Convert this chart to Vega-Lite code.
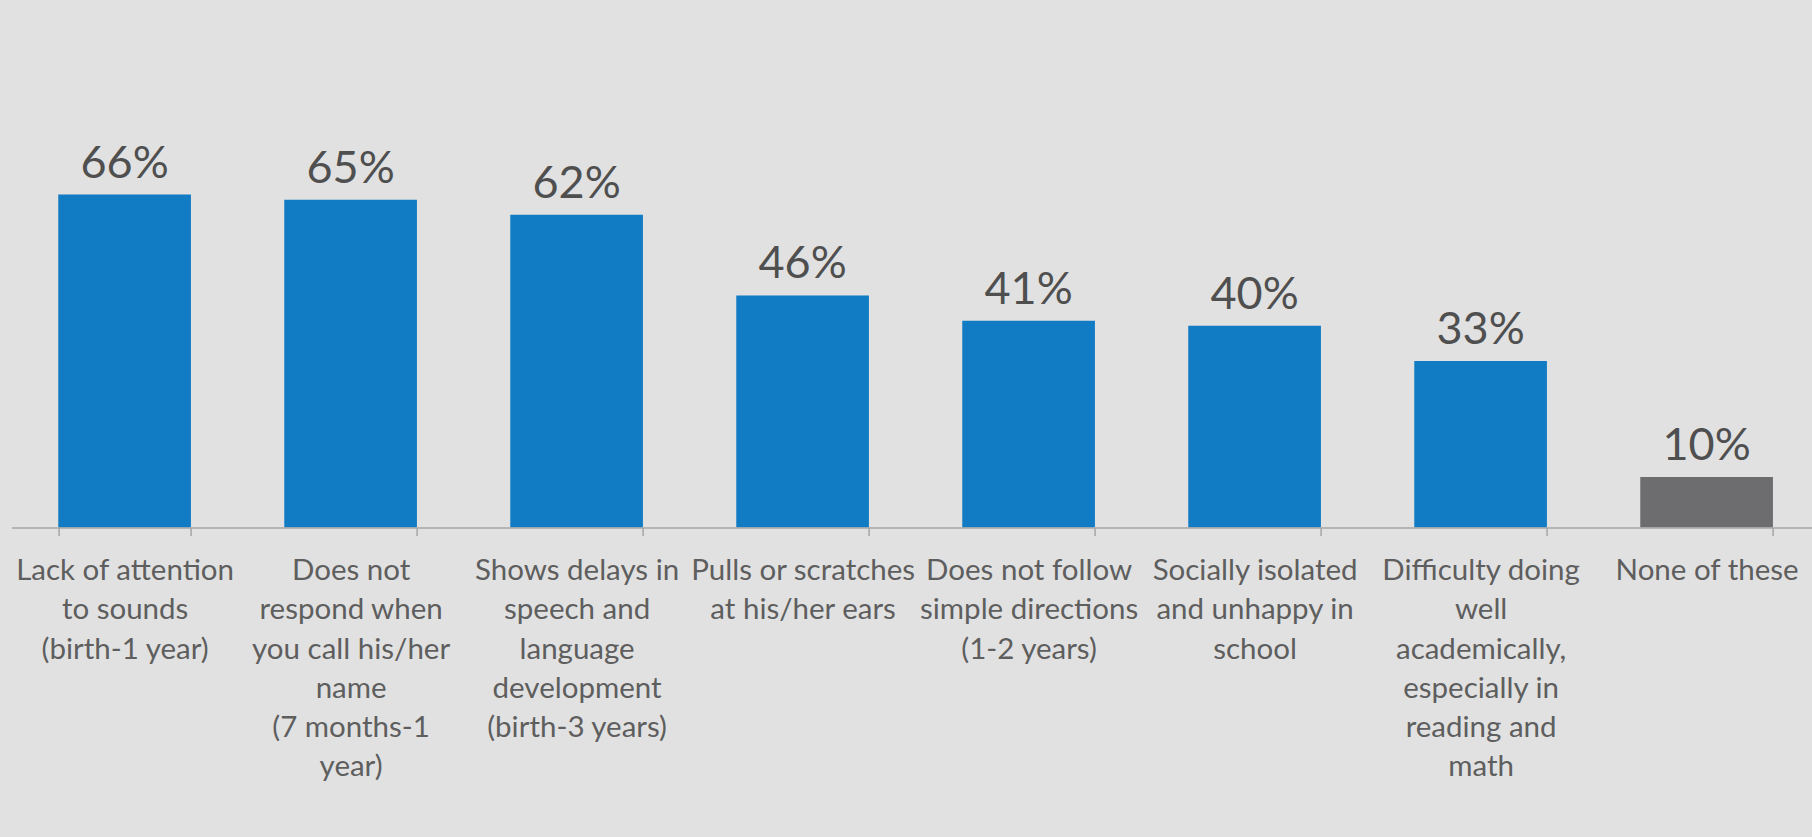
{
  "$schema": "https://vega.github.io/schema/vega-lite/v6.json",
  "autosize": {"type": "none"},
  "width": 1808,
  "height": 519.5,
  "padding": {"top": 8, "left": 11.6, "right": 0, "bottom": 309.5},
  "background": "#e1e1e1",
  "config": {"view": {"stroke": null}},
  "data": {
    "values": [
      {"symptom": "Lack of attention\nto sounds\n(birth-1 year)", "pct": 0.66},
      {"symptom": "Does not\nrespond when\nyou call his/her\nname\n(7 months-1\nyear)", "pct": 0.65},
      {"symptom": "Shows delays in\nspeech and\nlanguage\ndevelopment\n(birth-3 years)", "pct": 0.62},
      {"symptom": "Pulls or scratches\nat his/her ears", "pct": 0.46},
      {"symptom": "Does not follow\nsimple directions\n(1-2 years)", "pct": 0.41},
      {"symptom": "Socially isolated\nand unhappy in\nschool", "pct": 0.40},
      {"symptom": "Difficulty doing\nwell\nacademically,\nespecially in\nreading and\nmath", "pct": 0.33},
      {"symptom": "None of these", "pct": 0.10}
    ]
  },
  "encoding": {
    "x": {
      "field": "symptom", "type": "nominal", "sort": null,
      "scale": {"paddingInner": 0.413, "paddingOuter": 0.2065},
      "axis": {
        "title": null, "labelAngle": 0, "tickBand": "extent",
        "labelExpr": "split(datum.label, '\\n')",
        "labelFont": "Lato", "labelFontSize": 29.5, "labelColor": "#5e5e5e",
        "labelLineHeight": 39.3, "labelPadding": 21, "labelLimit": 0,
        "labelOverlap": false, "domainColor": "#a6a6a6", "domainWidth": 1.5,
        "tickColor": "#a6a6a6", "tickWidth": 1.5, "tickSize": 8, "zindex": 1
      }
    },
    "y": {"field": "pct", "type": "quantitative", "scale": {"domain": [0, 1.03]}, "axis": null}
  },
  "layer": [
    {
      "mark": {"type": "bar"},
      "encoding": {
        "color": {
          "condition": {"test": "datum.symptom === 'None of these'", "value": "#6d6d6f"},
          "value": "#117bc4"
        }
      }
    },
    {
      "mark": {"type": "text", "baseline": "alphabetic", "dy": -17, "font": "Lato", "fontSize": 45, "color": "#4f4f4f"},
      "encoding": {
        "text": {"field": "pct", "type": "quantitative", "format": ".0%"}
      }
    }
  ]
}
